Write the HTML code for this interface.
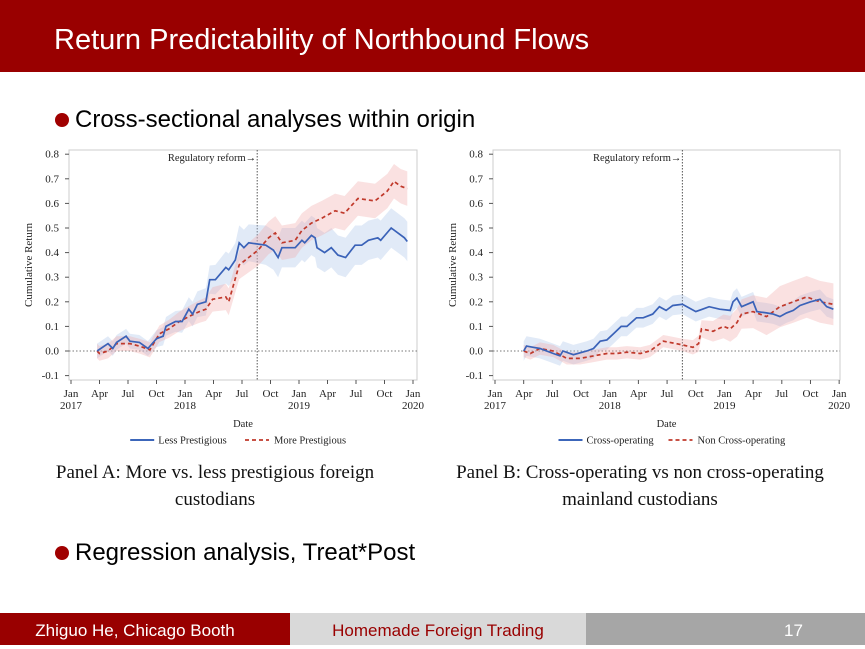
<!DOCTYPE html>
<html><head><meta charset="utf-8"><style>
body{margin:0;width:865px;height:645px;overflow:hidden;background:#fff;position:relative;font-family:"Liberation Sans",sans-serif}
.hdr{position:absolute;left:0;top:0;width:865px;height:72px;background:#990000}
.hdr div{position:absolute;left:54px;top:24px;color:#fff;font-size:29px}
.bul{position:absolute;font-size:24px;color:#000}
.dot{position:absolute;width:14px;height:14px;border-radius:50%;background:#a00000}
.cap{position:absolute;font-family:"Liberation Serif",serif;font-size:19px;text-align:center;line-height:27px;color:#111}
.ft{position:absolute;top:613px;height:32px;font-size:17px;line-height:36px}
</style></head><body>
<div class="hdr"><div>Return Predictability of Northbound Flows</div></div>
<div class="dot" style="left:55px;top:113px"></div>
<div class="bul" style="left:75px;top:106px">Cross-sectional analyses within origin</div>
<svg id="s" width="865" height="645" style="position:absolute;left:0;top:0" font-family="Liberation Serif, serif" font-size="11" fill="#222"></svg>
<div class="cap" style="left:25px;top:459px;width:380px">Panel A: More vs. less prestigious foreign<br>custodians</div>
<div class="cap" style="left:430px;top:459px;width:420px">Panel B: Cross-operating vs non cross-operating<br>mainland custodians</div>
<div class="dot" style="left:55px;top:546px"></div>
<div class="bul" style="left:75px;top:539px">Regression analysis, Treat*Post</div>
<div class="ft" style="left:0;width:270px;background:#990000;color:#fff;text-align:center">Zhiguo He, Chicago Booth</div>
<div class="ft" style="left:270px;width:0"></div>
<div class="ft" style="left:270px;width:20px;background:#990000"></div>
<div class="ft" style="left:290px;width:296px;background:#d9d9d9;color:#990000;text-align:center">Homemade Foreign Trading</div>
<div class="ft" style="left:586px;width:279px;background:#a6a6a6;color:#fff"><span style="position:absolute;left:198px">17</span></div>
<script>
const s=document.getElementById('s');let h='';
const A={bl:[[2.75,0],[3.9,.03],[4.4,.01],[4.8,.035],[5.8,.06],[6.2,.04],[7.2,.035],[8.1,.01],[9,.05],[9.7,.06],[10,.1],[11,.12],[11.7,.12],[12.4,.17],[12.8,.15],[13.3,.19],[14.2,.2],[14.6,.29],[15.2,.29],[16.3,.34],[16.6,.33],[17.3,.37],[17.7,.44],[18.2,.42],[18.7,.44],[20.5,.43],[21.3,.41],[21.8,.38],[22.2,.42],[23.6,.42],[24.3,.45],[24.6,.44],[25.3,.47],[25.7,.46],[25.9,.42],[26.7,.4],[27.4,.42],[28.1,.39],[28.9,.38],[29.9,.43],[30.6,.43],[31.3,.45],[32.3,.46],[32.6,.45],[33.7,.5],[35.1,.46],[35.4,.445]],
rd:[[2.75,0],[3,-.01],[3.9,0],[4.8,.03],[6.2,.03],[7.2,.02],[8.3,.005],[9.3,.07],[10.3,.09],[11.4,.12],[12.4,.14],[13.5,.16],[14.2,.17],[14.9,.21],[16.3,.22],[16.6,.2],[17.7,.35],[18.7,.38],[19.7,.41],[20.8,.46],[21.5,.48],[22.2,.44],[23.6,.45],[24.3,.49],[25.3,.52],[26.4,.54],[27.8,.57],[28.8,.56],[30.2,.62],[32,.61],[33.3,.65],[34,.69],[34.7,.67],[35.4,.66]],
bw:m=>.03+.05*Math.min(1,Math.max(0,(m-8)/12)),rw:m=>.03+.04*Math.min(1,Math.max(0,(m-8)/14)),x0:71,mx:9.5,leg:['Less Prestigious','More Prestigious'],ax:69,ar:417};
const B={bl:[[3,0],[3.3,.02],[4,.015],[4.7,.01],[6.1,-.01],[6.8,-.02],[7.1,0],[8.2,-.015],[9.6,0],[10.3,.01],[11,.04],[11.7,.045],[12.4,.07],[13.2,.1],[13.8,.1],[14.8,.135],[15.5,.135],[16.5,.15],[17.2,.18],[17.9,.165],[18.6,.185],[19.6,.19],[21,.16],[21.7,.17],[22.4,.18],[23.5,.17],[24.6,.165],[24.9,.2],[25.3,.215],[25.8,.18],[27,.2],[27.4,.16],[28.4,.155],[29.1,.15],[29.8,.14],[30.5,.155],[31.2,.165],[31.9,.185],[33,.2],[34,.21],[34.7,.18],[35.4,.17]],
rd:[[3,0],[3.7,-.01],[4.7,.01],[6.1,0],[7.5,-.03],[8.9,-.03],[10.3,-.02],[11.7,-.01],[12.7,-.01],[13.8,-.005],[15.2,-.01],[16.2,0],[17.6,.04],[18.3,.035],[19.6,.025],[20.7,.015],[21.3,.03],[21.6,.09],[22.8,.08],[23.9,.1],[24.6,.09],[25.3,.115],[25.8,.15],[27,.16],[28.4,.14],[29.8,.18],[31.2,.2],[32.6,.22],[34,.2],[35.4,.19]],
bw:m=>.04,rw:m=>.025+.06*Math.min(1,Math.max(0,(m-20)/10)),x0:495,mx:9.56,leg:['Cross-operating','Non Cross-operating'],ax:493,ar:840};
const Y=v=>351-v*246;
function band(d,w,X,c){let up=d.map(p=>X(p[0]).toFixed(1)+','+Y(p[1]+w(p[0])).toFixed(1));let dn=d.slice().reverse().map(p=>X(p[0]).toFixed(1)+','+Y(p[1]-w(p[0])).toFixed(1));return `<polygon points="${up.concat(dn).join(' ')}" fill="${c}" opacity="0.35"/>`;}
function line(d,X,c,dash){return `<polyline points="${d.map(p=>X(p[0]).toFixed(1)+','+Y(p[1]).toFixed(1)).join(' ')}" fill="none" stroke="${c}" stroke-width="1.7" ${dash?'stroke-dasharray="4,3"':''}/>`;}
const mon=['Jan','Apr','Jul','Oct'];
for(const P of [A,B]){const X=m=>P.x0+m*P.mx;
h+=`<rect x="${P.ax}" y="150" width="${P.ar-P.ax}" height="230" fill="none" stroke="#ccc" stroke-width="1"/>`;
for(let i=0;i<=9;i++){const v=.8-i*.1,y=Y(v);h+=`<line x1="${P.ax-4}" x2="${P.ax}" y1="${y}" y2="${y}" stroke="#555"/><text x="${P.ax-10}" y="${y+3.5}" text-anchor="end">${(Math.abs(v)<1e-9?0:v).toFixed(1)}</text>`;}
for(let q=0;q<=12;q++){const x=X(q*3);h+=`<line x1="${x}" x2="${x}" y1="380" y2="384" stroke="#555"/><text x="${x}" y="397" text-anchor="middle">${mon[q%4]}</text>`;if(q%4==0)h+=`<text x="${x}" y="409" text-anchor="middle">${2017+q/4}</text>`;}
h+=`<text x="${(P.ax+P.ar)/2}" y="427" text-anchor="middle" font-size="10.5">Date</text>`;
h+=`<text transform="translate(${P.ax-37},265) rotate(-90)" text-anchor="middle" font-size="11">Cumulative Return</text>`;
h+=`<line x1="${P.ax}" x2="${P.ar}" y1="${Y(0)}" y2="${Y(0)}" stroke="#777" stroke-dasharray="1.5,2"/>`;
const rx=X(19.6);h+=`<line x1="${rx}" x2="${rx}" y1="150" y2="380" stroke="#555" stroke-dasharray="1.5,1.5"/><text x="${rx-1}" y="161" text-anchor="end" font-size="10.5">Regulatory reform→</text>`;
h+=band(P.bl,P.bw,X,'#a9c4e8')+band(P.rd,P.rw,X,'#f0a8a8')+line(P.rd,X,'#c0392b',1)+line(P.bl,X,'#3a62b8',0);
const cx=(P.ax+P.ar)/2;const w1=P.leg[0].length*4.8+30;
h+=`<line x1="${cx-w1-6}" x2="${cx-w1+18}" y1="440" y2="440" stroke="#2050b0" stroke-width="1.7"/><text x="${cx-w1+22}" y="443.5" font-size="10.5">${P.leg[0]}</text>`;
h+=`<line x1="${cx+2}" x2="${cx+26}" y1="440" y2="440" stroke="#c0392b" stroke-width="1.7" stroke-dasharray="4,3"/><text x="${cx+31}" y="443.5" font-size="10.5">${P.leg[1]}</text>`;}
s.innerHTML=h;
</script>
</body></html>
